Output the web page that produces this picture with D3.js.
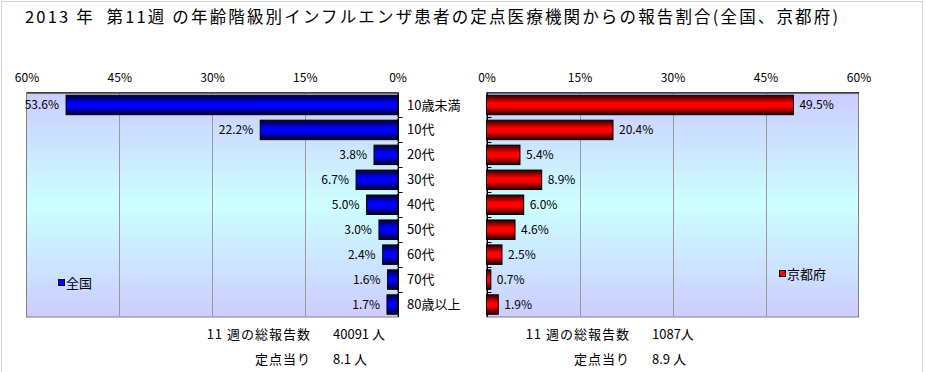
<!DOCTYPE html>
<html lang="ja">
<head>
<meta charset="UTF-8">
<script src="https://d3js.org/d3.v7.min.js"></script>
<style>
  body { margin: 0; background: #fff; }
  svg { display: block; }
  text { font-family: "Noto Sans CJK JP", "Noto Sans", sans-serif; fill: #000; }
</style>
</head>
<body>
<div id="chart"></div>
<script>
  // data
  const categories = ['10歳未満', '10代', '20代', '30代', '40代', '50代', '60代', '70代', '80歳以上'];
  const national = [53.6, 22.2, 3.8, 6.7, 5.0, 3.0, 2.4, 1.6, 1.7];
  const kyoto = [49.5, 20.4, 5.4, 8.9, 6.0, 4.6, 2.5, 0.7, 1.9];
  const tickValues = [0, 15, 30, 45, 60];
  const seriesNames = ['全国', '京都府'];
  const totalLabels = ['11 週の総報告数', '定点当り'];
  const nationalTotals = ['40091 人', '8.1 人'];
  const kyotoTotals = ['1087人', '8.9 人'];
  const title = '2013 年\u00a0\u00a0第11週 の年齢階級別インフルエンザ患者の定点医療機関からの報告割合(全国、京都府)';

  const W = 926, H = 372;
  const plotTop = 92.5, plotBottom = 317;

  const svg = d3.select('#chart').append('svg').attr('width', W).attr('height', H);
  const defs = svg.append('defs');

  // background of plot areas
  const bg = defs.append('linearGradient').attr('id', 'bg').attr('x1', 0).attr('y1', 0).attr('x2', 0).attr('y2', 1);
  bg.append('stop').attr('offset', '0').attr('stop-color', '#ccccff');
  bg.append('stop').attr('offset', '0.5').attr('stop-color', '#ccffff');
  bg.append('stop').attr('offset', '1').attr('stop-color', '#ccccff');

  function barGrad(id, dark, bright) {
    const g = defs.append('linearGradient').attr('id', id).attr('x1', 0).attr('y1', 0).attr('x2', 0).attr('y2', 1);
    g.append('stop').attr('offset', '0').attr('stop-color', dark);
    g.append('stop').attr('offset', '0.4').attr('stop-color', bright);
    g.append('stop').attr('offset', '0.6').attr('stop-color', bright);
    g.append('stop').attr('offset', '1').attr('stop-color', dark);
  }
  barGrad('blueBar', '#00002a', '#0000ff');
  barGrad('redBar', '#2a0000', '#ff0000');

  // outer frame
  svg.append('path').attr('d', `M1.5,${H}V1.5H922.5V${H}`).attr('fill', 'none').attr('stroke', '#d4d4d4');

  // title
  svg.append('text').attr('x', 25).attr('y', 23)
    .attr('textLength', 813).attr('lengthAdjust', 'spacing')
    .style('font-size', '16.5px').style('white-space', 'pre').text(title);

  const y = d3.scaleBand().domain(categories).range([plotTop, plotBottom]).paddingInner(0.22).paddingOuter(0.11);
  const yStep = d3.scaleBand().domain(categories).range([plotTop, plotBottom]);

  function panel(cfg) {
    const x = d3.scaleLinear().domain([0, 60]).range(cfg.range);
    const g = svg.append('g');
    const x0 = Math.min(...cfg.range), x1 = Math.max(...cfg.range);

    g.append('rect').attr('x', x0).attr('y', plotTop).attr('width', x1 - x0).attr('height', plotBottom - plotTop)
      .attr('fill', 'url(#bg)').attr('stroke', '#808080');

    // gridlines
    g.selectAll('line.grid').data(tickValues.filter(d => d > 0 && d < 60)).enter().append('line')
      .attr('x1', d => Math.round(x(d)) + 0.5).attr('x2', d => Math.round(x(d)) + 0.5)
      .attr('y1', plotTop).attr('y2', plotBottom).attr('stroke', '#999999');

    // top value axis
    const ax = g.append('g').attr('transform', `translate(0,${plotTop})`)
      .call(d3.axisTop(x).tickValues(tickValues).tickSize(0).tickPadding(11).tickFormat(d => d + '%'));
    ax.select('.domain').attr('stroke', '#000');
    ax.selectAll('text').style('font-size', '12px').style('font-family', '"Noto Sans CJK JP", sans-serif');

    // category axis at 0%
    const cx = Math.round(x(0)) + 0.5;
    g.append('line').attr('x1', cx).attr('x2', cx).attr('y1', plotTop).attr('y2', plotBottom).attr('stroke', '#000');
    g.selectAll('line.tick').data(categories.slice(1)).enter().append('line')
      .attr('x1', cx).attr('x2', cx + 4)
      .attr('y1', d => Math.round(yStep(d)) + 0.5).attr('y2', d => Math.round(yStep(d)) + 0.5)
      .attr('stroke', '#000');

    // bars
    g.selectAll('rect.bar').data(cfg.values).enter().append('rect')
      .attr('x', d => Math.min(x(0), x(d)))
      .attr('y', (d, i) => y(categories[i]))
      .attr('width', d => Math.abs(x(d) - x(0)))
      .attr('height', y.bandwidth())
      .attr('fill', cfg.fill).attr('stroke', '#000').attr('stroke-width', 1);

    // value labels
    g.selectAll('text.val').data(cfg.values).enter().append('text')
      .attr('x', d => Math.max(x(d) + cfg.labelOff, x0 + (cfg.side === 'left' ? 30 : 0)))
      .attr('y', (d, i) => y(categories[i]) + y.bandwidth() / 2)
      .attr('dy', '0.35em')
      .attr('text-anchor', cfg.side === 'left' ? 'end' : 'start')
      .style('font-size', '12px')
      .text(d => d.toFixed(1) + '%');

    // legend
    const lg = g.append('g').attr('transform', `translate(${cfg.legend[0]},${cfg.legend[1]})`);
    lg.append('rect').attr('x', 0.5).attr('y', -3.5).attr('width', 6).attr('height', 6)
      .attr('fill', cfg.legendFill).attr('stroke', '#000');
    lg.append('text').attr('x', 8).attr('dy', '0.35em').style('font-size', '13px').text(cfg.name);

    // totals
    totalLabels.forEach((t, i) => {
      g.append('text').attr('x', cfg.totalX).attr('y', 334 + i * 25).attr('dy', '0.35em')
        .attr('text-anchor', 'end').style('font-size', '13px').style('letter-spacing', '1px')
        .style('white-space', 'pre').text(t);
      g.append('text').attr('x', cfg.totalX + 22).attr('y', 334 + i * 25).attr('dy', '0.35em')
        .style('font-size', '13px').style('white-space', 'pre').text(cfg.totals[i]);
    });
  }

  panel({ range: [397.5, 26.5], values: national, fill: 'url(#blueBar)', legendFill: '#0000ff',
    side: 'left', labelOff: -7, legend: [58, 283], name: seriesNames[0], totalX: 311, totals: nationalTotals });
  panel({ range: [486.5, 858.5], values: kyoto, fill: 'url(#redBar)', legendFill: '#ff0000',
    side: 'right', labelOff: 6, legend: [779, 274], name: seriesNames[1], totalX: 630, totals: kyotoTotals });

  // category labels between the panels
  svg.selectAll('text.cat').data(categories).enter().append('text')
    .attr('x', 407).attr('y', d => y(d) + y.bandwidth() / 2).attr('dy', '0.35em')
    .style('font-size', '13px').text(d => d);
</script>
</body>
</html>
